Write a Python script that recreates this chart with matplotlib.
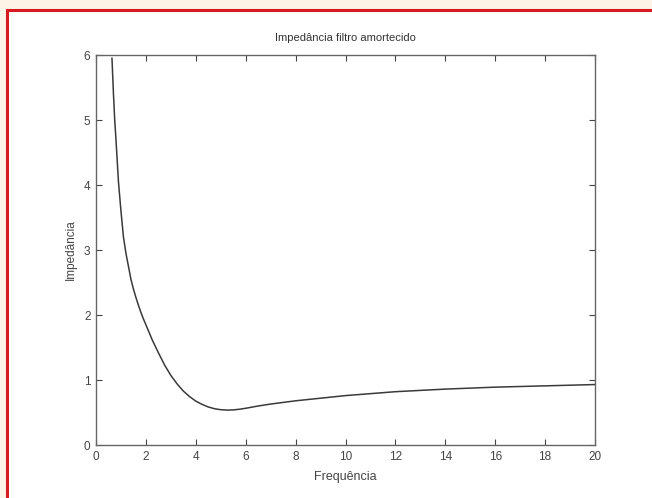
import matplotlib
matplotlib.use("Agg")
import matplotlib.pyplot as plt
from matplotlib.patches import Rectangle

# valores
freq = [0.64, 0.7, 0.75, 0.8, 0.9, 1.0, 1.1, 1.2, 1.3, 1.4, 1.5, 1.6, 1.7, 1.8,
        1.9, 2.0, 2.25, 2.5, 2.75, 3.0, 3.25, 3.5, 3.75, 4.0, 4.25, 4.5, 4.75,
        5.0, 5.25, 5.5, 5.75, 6.0, 6.5, 7.0, 7.5, 8.0, 9.0, 10, 11, 12, 13, 14,
        15, 16, 17, 18, 19, 20]
impedancia = [5.95, 5.4, 5.0, 4.7, 4.05, 3.6, 3.2, 2.95, 2.75, 2.55, 2.4, 2.27,
              2.15, 2.04, 1.94, 1.85, 1.62, 1.42, 1.23, 1.07, 0.94, 0.83, 0.745,
              0.675, 0.625, 0.585, 0.558, 0.543, 0.537, 0.54, 0.55, 0.565, 0.6,
              0.63, 0.655, 0.68, 0.72, 0.76, 0.79, 0.82, 0.84, 0.86, 0.875, 0.89,
              0.90, 0.91, 0.92, 0.93]
xticks = list(range(0, 21, 2))
yticks = list(range(0, 7))

plt.rcParams['font.family'] = ['Liberation Sans', 'DejaVu Sans']

fig = plt.figure(figsize=(6.52, 4.98), dpi=100, facecolor='#fdf3e6')

# moldura vermelha (atrás dos eixos)
moldura = Rectangle((7 / 652, -0.1), 1.2, 0.98 + 0.1, transform=fig.transFigure,
                    facecolor='white', edgecolor='#d71920', linewidth=2.2, zorder=-10)
fig.patches.append(moldura)

ax = fig.add_axes([96 / 652, 53 / 498, 499 / 652, 390 / 498])
ax.plot(freq, impedancia, color='#3a3a3a', linewidth=1.1)

ax.set_xlim(0, 20)
ax.set_ylim(0, 6)
ax.set_xticks(xticks)
ax.set_yticks(yticks)
ax.tick_params(direction='in', top=True, right=True, length=4, width=0.8,
               labelsize=8.5, colors='#444444', pad=4)
for s in ax.spines.values():
    s.set_color('#666666')
    s.set_linewidth(1.0)

ax.set_title('Impedância filtro amortecido', fontsize=8, color='#333333', pad=10)
ax.set_xlabel('Frequência', fontsize=9, color='#444444', labelpad=6)
ax.set_ylabel('Impedância', fontsize=8.5, color='#444444', labelpad=5)

fig.savefig('out.png', dpi=100, facecolor=fig.get_facecolor())
